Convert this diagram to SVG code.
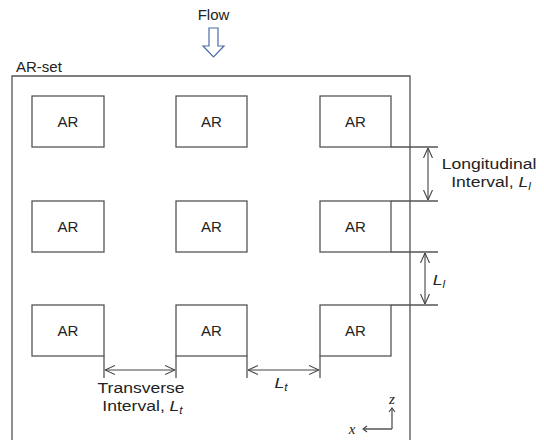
<svg xmlns="http://www.w3.org/2000/svg" width="544" height="440" viewBox="0 0 544 440">
<defs>
<marker id="oa" viewBox="0 0 10 10" refX="10" refY="5" markerWidth="10" markerHeight="10" markerUnits="userSpaceOnUse" orient="auto-start-reverse">
<polyline points="0,0.5 10,5 0,9.5" fill="none" stroke="#444" stroke-width="1.1"/>
</marker>
</defs>
<style>
.ln{stroke:#555;stroke-width:1.3;fill:none}
.box{fill:#fff;stroke:#555;stroke-width:1.3}
.t{font-family:"Liberation Sans",Arial,sans-serif;font-size:15px;fill:#222}
.m{text-anchor:middle}
.i{font-style:italic}
.s{font-size:10px;font-style:italic}
.ser{font-family:"Liberation Serif","Times New Roman",serif;font-style:italic;font-size:15px;fill:#222}
.ar{stroke:#444;stroke-width:1.1;fill:none;marker-start:url(#oa);marker-end:url(#oa)}
</style>
<rect width="544" height="440" fill="#fff"/>

<g id="flow">
<text class="t m" x="213.5" y="20">Flow</text>
<path d="M209,28 H218 V46 H224 L213.5,57 L203,46 H209 Z" fill="#fff" stroke="#4a6aa8" stroke-width="1.2"/>
</g>

<g id="ar-set">
<path class="ln" d="M12,440 V76 H410 V440"/>
<text class="t" x="16" y="72">AR-set</text>
</g>

<g id="ar-1-1"><rect class="box" x="32" y="96" width="72" height="51"/><text class="t m" x="68" y="127">AR</text></g>
<g id="ar-1-2"><rect class="box" x="176" y="96" width="71" height="51"/><text class="t m" x="211.5" y="127">AR</text></g>
<g id="ar-1-3"><rect class="box" x="320" y="96" width="71" height="51"/><text class="t m" x="355.5" y="127">AR</text></g>
<g id="ar-2-1"><rect class="box" x="32" y="201" width="72" height="51"/><text class="t m" x="68" y="232">AR</text></g>
<g id="ar-2-2"><rect class="box" x="176" y="201" width="71" height="51"/><text class="t m" x="211.5" y="232">AR</text></g>
<g id="ar-2-3"><rect class="box" x="320" y="201" width="71" height="51"/><text class="t m" x="355.5" y="232">AR</text></g>
<g id="ar-3-1"><rect class="box" x="32" y="305" width="72" height="51"/><text class="t m" x="68" y="336">AR</text></g>
<g id="ar-3-2"><rect class="box" x="176" y="305" width="71" height="51"/><text class="t m" x="211.5" y="336">AR</text></g>
<g id="ar-3-3"><rect class="box" x="320" y="305" width="71" height="51"/><text class="t m" x="355.5" y="336">AR</text></g>

<g id="connectors">
<path class="ln" d="M391,147 H438 M391,201 H438 M391,252 H438 M391,305 H438"/>
<path class="ln" d="M104,356 V378 M176,356 V378 M247,356 V378 M320,356 V378"/>
<line class="ar" x1="428" y1="148" x2="428" y2="200"/>
<line class="ar" x1="425" y1="253" x2="425" y2="304"/>
<line class="ar" x1="105" y1="370" x2="175" y2="370"/>
<line class="ar" x1="248" y1="370" x2="319" y2="370"/>
</g>

<g id="labels">
<text class="t m" transform="translate(489,169) scale(1.17,1)">Longitudinal</text>
<text class="t m" transform="translate(491,187) scale(1.17,1)">Interval,  <tspan class="i">L</tspan><tspan class="s" dy="3">l</tspan></text>
<text class="t m" transform="translate(439,285) scale(1.17,1)"><tspan class="i">L</tspan><tspan class="s" dy="3">l</tspan></text>
<text class="t m" transform="translate(141,393) scale(1.17,1)">Transverse</text>
<text class="t m" transform="translate(142.5,411) scale(1.17,1)">Interval,  <tspan class="i">L</tspan><tspan class="s" dy="3">t</tspan></text>
<text class="t m" transform="translate(281,388) scale(1.17,1)"><tspan class="i">L</tspan><tspan class="s" dy="3">t</tspan></text>
</g>

<g id="axes">
<path class="ln" d="M392,429 H364 M392,429 V409" stroke="#444"/>
<path d="M367,426 L363,429 L367,432 M389,412 L392,408 L395,412" fill="none" stroke="#444" stroke-width="1.1"/>
<text class="ser" x="392" y="404" text-anchor="middle">z</text>
<text class="ser" x="352" y="434" text-anchor="middle">x</text>
</g>
</svg>
